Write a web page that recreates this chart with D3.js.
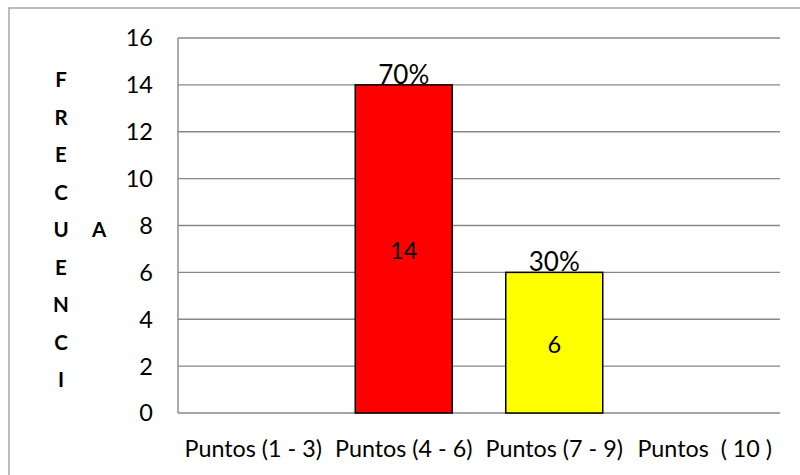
<!DOCTYPE html>
<html>
<head>
<meta charset="utf-8">
<script src="https://cdn.jsdelivr.net/npm/d3@7"></script>
<style>
  html, body { margin: 0; padding: 0; background: #fff; }
  svg { display: block; }
  text { font-family: Lato, "Open Sans", sans-serif; fill: #000; }
</style>
</head>
<body>
<svg id="chart" width="800" height="475"></svg>
<script>
// Frequency per score range
const categories = ["Puntos (1 - 3)", "Puntos (4 - 6)", "Puntos (7 - 9)", "Puntos  ( 10 )"];
const frequencies = [0, 14, 6, 0];
const percentLabels = ["", "70%", "30%", ""];
const barColors = ["#ff0000", "#ff0000", "#ffff00", "#ffff00"];
const yTicks = [0, 2, 4, 6, 8, 10, 12, 14, 16];
const axisTitle = ["F", "R", "E", "C", "U", "E", "N", "C", "I"];
const axisTitleExtra = "A";

const svg = d3.select("#chart");
const W = 800, H = 475;
const plot = { left: 178, right: 780, top: 38, bottom: 413 };

// outer chart frame (runs off the right/bottom edges)
svg.append("rect")
  .attr("x", 9).attr("y", 8)
  .attr("width", W).attr("height", H)
  .attr("fill", "#fff")
  .attr("stroke", "#a6a6a6").attr("stroke-width", 1.5);

const y = d3.scaleLinear().domain([0, 16]).range([plot.bottom, plot.top]);
const x = d3.scaleBand().domain(categories)
  .range([plot.left, plot.right])
  .paddingInner(0.3555).paddingOuter(0.3555 / 2);
const cx = d => x(d) + x.bandwidth() / 2;

// horizontal gridlines
svg.append("g").selectAll("line").data(yTicks).join("line")
  .attr("x1", plot.left).attr("x2", plot.right)
  .attr("y1", d => y(d)).attr("y2", d => y(d))
  .attr("stroke", "#888").attr("stroke-width", 1.4);

// value axis line
svg.append("line")
  .attr("x1", plot.left).attr("x2", plot.left)
  .attr("y1", y(16)).attr("y2", y(0))
  .attr("stroke", "#888").attr("stroke-width", 1.4);

// tick labels
svg.append("g").selectAll("text").data(yTicks).join("text")
  .attr("x", 153)
  .attr("y", d => y(d))
  .attr("dy", "0.36em")
  .attr("text-anchor", "end")
  .style("font-size", "23.5px")
  .text(d => d);

// bars
const rows = categories.map((c, i) => ({ c, v: frequencies[i], p: percentLabels[i], col: barColors[i] }));
const shown = rows.filter(d => d.v > 0);

svg.append("g").selectAll("rect").data(shown).join("rect")
  .attr("x", d => x(d.c))
  .attr("y", d => y(d.v))
  .attr("width", x.bandwidth())
  .attr("height", d => y(0) - y(d.v))
  .attr("fill", d => d.col)
  .attr("stroke", "#000").attr("stroke-width", 1.5);

// values inside the bars
svg.append("g").selectAll("text").data(shown).join("text")
  .attr("x", d => cx(d.c))
  .attr("y", d => (y(d.v) + y(0)) / 2 + 1.5)
  .attr("dy", "0.36em")
  .attr("text-anchor", "middle")
  .style("font-size", "23.5px")
  .text(d => d.v);

// percentages on top of the bars
svg.append("g").selectAll("text").data(shown).join("text")
  .attr("x", d => cx(d.c))
  .attr("y", d => y(d.v) - 1)
  .attr("text-anchor", "middle")
  .style("font-size", "26px")
  .text(d => d.p);

// category labels
svg.append("g").selectAll("text").data(categories).join("text")
  .attr("x", d => cx(d))
  .attr("y", 457)
  .attr("text-anchor", "middle")
  .attr("xml:space", "preserve")
  .style("white-space", "pre")
  .style("font-size", "23.3px")
  .text(d => d);

// vertical axis title, one letter per line
svg.append("g").selectAll("text").data(axisTitle).join("text")
  .attr("x", 61)
  .attr("y", (d, i) => 80 + i * 37.5)
  .attr("dy", "0.36em")
  .attr("text-anchor", "middle")
  .style("font-size", "20.5px")
  .style("font-weight", "bold")
  .text(d => d);

svg.append("text")
  .attr("x", 99).attr("y", 230)
  .attr("dy", "0.36em")
  .attr("text-anchor", "middle")
  .style("font-size", "20.5px")
  .style("font-weight", "bold")
  .text(axisTitleExtra);
</script>
</body>
</html>
